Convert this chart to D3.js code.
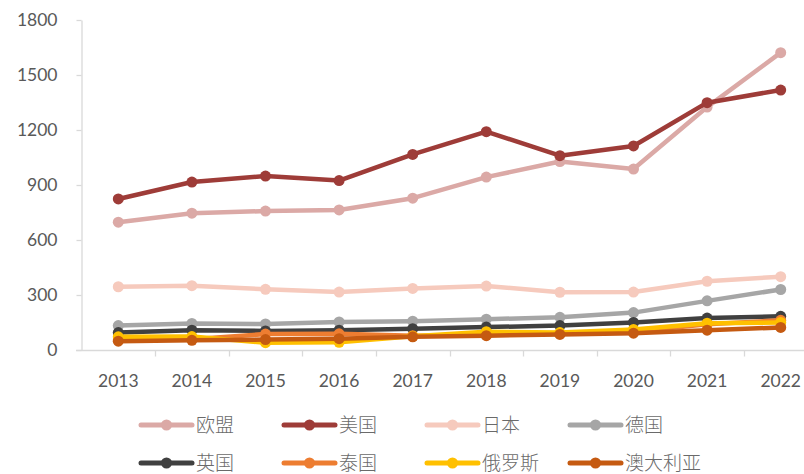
<!DOCTYPE html>
<html>
<head>
<meta charset="utf-8">
<script src="https://cdn.jsdelivr.net/npm/d3@7"></script>
<style>
  html, body { margin: 0; padding: 0; background: #fff; }
  svg { display: block; }
</style>
</head>
<body>
<svg id="chart"></svg>
<script>
// ==============================
// DATA
// ==============================
const years = ["2013", "2014", "2015", "2016", "2017", "2018", "2019", "2020", "2021", "2022"];
const yTicks = [0, 300, 600, 900, 1200, 1500, 1800];

const euValues        = [697, 746, 758, 764, 828, 943, 1028, 987, 1325, 1622];
const usValues        = [824, 916, 949, 924, 1067, 1191, 1060, 1113, 1349, 1418];
const japanValues     = [345, 351, 331, 316, 336, 349, 315, 316, 375, 400];
const germanyValues   = [133, 145, 142, 153, 157, 168, 178, 204, 268, 330];
const ukValues        = [95, 108, 104, 108, 116, 125, 133, 150, 174, 184];
const thailandValues  = [55, 58, 87, 88, 78, 82, 92, 100, 140, 162];
const russiaValues    = [72, 73, 40, 42, 75, 100, 95, 112, 146, 150];
const australiaValues = [48, 53, 57, 62, 72, 78, 85, 92, 108, 123];

const seriesNames  = ["欧盟", "美国", "日本", "德国", "英国", "泰国", "俄罗斯", "澳大利亚"];
const seriesColors = ["#dba9a6", "#9e3c38", "#f6cabd", "#a6a6a6", "#404040", "#ed7d31", "#ffc000", "#c55a11"];
const seriesValues = [euValues, usValues, japanValues, germanyValues, ukValues, thailandValues, russiaValues, australiaValues];

const series = seriesNames.map((name, i) => ({
  name: name,
  color: seriesColors[i],
  values: seriesValues[i].map((v, j) => ({ year: years[j], value: v }))
}));

// ==============================
// LAYOUT
// ==============================
const width = 804;
const height = 474;
const numFont = "Lato, 'Noto Sans CJK SC', sans-serif";
const cjkFont = "'Noto Sans CJK SC', sans-serif";
const textColor = "#595959";
const axisColor = "#d9d9d9";

const svg = d3.select("#chart")
  .attr("width", width)
  .attr("height", height)
  .attr("viewBox", `0 0 ${width} ${height}`);

const x = d3.scaleBand()
  .domain(years)
  .range([81.5, 817.5]);

const y = d3.scaleLinear()
  .domain([0, 1800])
  .range([350, 20]);

// ==============================
// AXES
// ==============================
const yAxis = svg.append("g")
  .attr("transform", "translate(81.5,0)")
  .call(d3.axisLeft(y)
    .tickValues(yTicks)
    .tickFormat(d3.format("d"))
    .tickSize(5)
    .tickPadding(19)
    .tickSizeOuter(0));

yAxis.select(".domain").attr("stroke", axisColor).attr("stroke-width", 1.3);
yAxis.selectAll(".tick line").attr("stroke", axisColor).attr("stroke-width", 1.3);
yAxis.selectAll(".tick text")
  .attr("fill", textColor)
  .attr("font-family", numFont)
  .attr("font-size", "17.5px");

const xAxis = svg.append("g")
  .attr("transform", "translate(0,350.5)");

xAxis.append("line")
  .attr("x1", 76)
  .attr("x2", width)
  .attr("stroke", axisColor)
  .attr("stroke-width", 1.3);

xAxis.selectAll(".xtick")
  .data(years.slice(1))
  .join("line")
  .attr("class", "xtick")
  .attr("x1", d => Math.round(x(d)) + 0.5)
  .attr("x2", d => Math.round(x(d)) + 0.5)
  .attr("y1", 0)
  .attr("y2", 6)
  .attr("stroke", axisColor)
  .attr("stroke-width", 1.3);

xAxis.selectAll(".xlabel")
  .data(years)
  .join("text")
  .attr("class", "xlabel")
  .attr("x", d => x(d) + x.bandwidth() / 2)
  .attr("y", 36)
  .attr("text-anchor", "middle")
  .attr("fill", textColor)
  .attr("font-family", numFont)
  .attr("font-size", "17.5px")
  .text(d => d);

// ==============================
// LINES + MARKERS
// ==============================
const line = d3.line()
  .x(d => x(d.year) + x.bandwidth() / 2)
  .y(d => y(d.value));

const groups = svg.selectAll(".series")
  .data(series)
  .join("g")
  .attr("class", "series");

groups.append("path")
  .attr("d", d => line(d.values))
  .attr("fill", "none")
  .attr("stroke", d => d.color)
  .attr("stroke-width", 4.5)
  .attr("stroke-linejoin", "round")
  .attr("stroke-linecap", "round");

groups.selectAll("circle")
  .data(d => d.values.map(v => ({ ...v, color: d.color })))
  .join("circle")
  .attr("cx", d => x(d.year) + x.bandwidth() / 2)
  .attr("cy", d => y(d.value))
  .attr("r", 5.5)
  .attr("fill", d => d.color);

// ==============================
// LEGEND
// ==============================
const legend = svg.append("g")
  .attr("transform", "translate(141,0)");

const items = legend.selectAll(".legend-item")
  .data(series)
  .join("g")
  .attr("class", "legend-item")
  .attr("transform", (d, i) => `translate(${(i % 4) * 143}, ${i < 4 ? 425 : 463})`);

items.append("line")
  .attr("x1", 0)
  .attr("x2", 51)
  .attr("stroke", d => d.color)
  .attr("stroke-width", 5)
  .attr("stroke-linecap", "round");

items.append("circle")
  .attr("cx", 25.5)
  .attr("r", 5.5)
  .attr("fill", d => d.color);

items.append("text")
  .attr("x", 55)
  .attr("y", 7)
  .attr("fill", "#6a6a6a")
  .attr("font-family", cjkFont)
  .attr("font-weight", 300)
  .attr("font-size", "19px")
  .text(d => d.name);
</script>
</body>
</html>
